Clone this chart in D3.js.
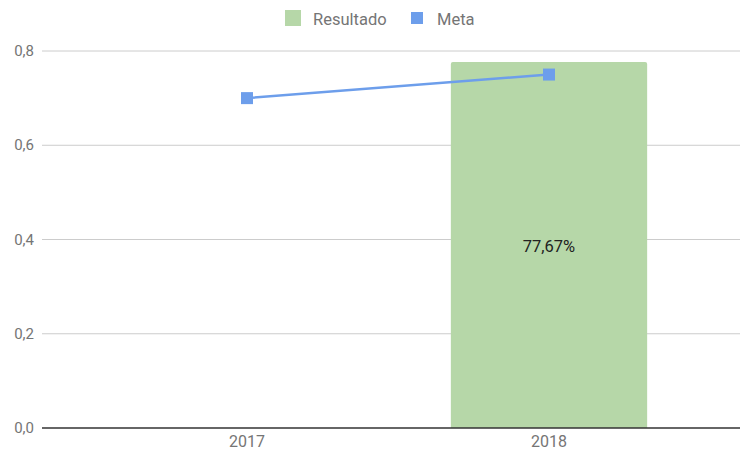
<!DOCTYPE html>
<html>
<head>
<meta charset="utf-8">
<script src="https://cdn.jsdelivr.net/npm/d3@7"></script>
<style>
  body { margin: 0; background: #fff; }
  text { font-family: Roboto, sans-serif; }
</style>
</head>
<body>
<div id="chart"></div>
<script>
const WIDTH = 740;
const HEIGHT = 452;

const years = ['2017', '2018'];
const resultado = [null, 0.7767];
const meta = [0.70, 0.75];
const yTicks = [0, 0.2, 0.4, 0.6, 0.8];
const seriesNames = ['Resultado', 'Meta'];

const GREEN = '#b6d7a8';
const BLUE = '#6d9eeb';

const svg = d3.select('#chart').append('svg')
  .attr('width', WIDTH)
  .attr('height', HEIGHT);

const xScale = d3.scaleBand()
  .domain(years)
  .range([96, 700])
  .paddingInner(0.35)
  .paddingOuter(0.175);

const yScale = d3.scaleLinear()
  .domain([0, 0.8])
  .range([428, 51]);

const fmt = v => d3.format('.1f')(v).replace('.', ',');

// gridlines
svg.append('g')
  .selectAll('line')
  .data(yTicks.filter(d => d > 0))
  .enter()
  .append('line')
  .attr('x1', 42)
  .attr('x2', WIDTH)
  .attr('y1', d => yScale(d))
  .attr('y2', d => yScale(d))
  .attr('stroke', '#cccccc')
  .attr('stroke-width', 1);

// y labels
svg.append('g')
  .selectAll('text')
  .data(yTicks)
  .enter()
  .append('text')
  .attr('x', 34)
  .attr('y', d => yScale(d) + 5)
  .attr('text-anchor', 'end')
  .attr('font-size', 15)
  .attr('fill', '#757575')
  .text(fmt);

// bars
const barData = years.map((y, i) => ({ year: y, value: resultado[i] })).filter(d => d.value != null);

svg.append('g')
  .selectAll('path')
  .data(barData)
  .enter()
  .append('path')
  .attr('fill', GREEN)
  .attr('d', d => {
    const x0 = xScale(d.year);
    const x1 = x0 + xScale.bandwidth();
    const y0 = yScale(d.value);
    const y1 = yScale(0);
    const r = 2;
    return `M${x0},${y1}V${y0 + r}Q${x0},${y0} ${x0 + r},${y0}H${x1 - r}Q${x1},${y0} ${x1},${y0 + r}V${y1}Z`;
  });

// bar labels
svg.append('g')
  .selectAll('text')
  .data(barData)
  .enter()
  .append('text')
  .attr('x', d => xScale(d.year) + xScale.bandwidth() / 2)
  .attr('y', d => (yScale(d.value) + yScale(0)) / 2 + 7)
  .attr('text-anchor', 'middle')
  .attr('font-size', 16.5)
  .attr('fill', '#222222')
  .text(d => d3.format('.2f')(d.value * 100).replace('.', ',') + '%');

// baseline
svg.append('line')
  .attr('x1', 42)
  .attr('x2', WIDTH)
  .attr('y1', yScale(0))
  .attr('y2', yScale(0))
  .attr('stroke', '#333333')
  .attr('stroke-width', 1.3);

// x labels
svg.append('g')
  .selectAll('text')
  .data(years)
  .enter()
  .append('text')
  .attr('x', d => xScale(d) + xScale.bandwidth() / 2)
  .attr('y', 447)
  .attr('text-anchor', 'middle')
  .attr('font-size', 16)
  .attr('fill', '#757575')
  .text(d => d);

// meta line
const metaData = years.map((y, i) => ({ year: y, value: meta[i] }));
const line = d3.line()
  .x(d => xScale(d.year) + xScale.bandwidth() / 2)
  .y(d => yScale(d.value));

svg.append('path')
  .datum(metaData)
  .attr('d', line)
  .attr('fill', 'none')
  .attr('stroke', BLUE)
  .attr('stroke-width', 2.5);

svg.append('g')
  .selectAll('rect')
  .data(metaData)
  .enter()
  .append('rect')
  .attr('x', d => xScale(d.year) + xScale.bandwidth() / 2 - 6)
  .attr('y', d => yScale(d.value) - 6)
  .attr('width', 12)
  .attr('height', 12)
  .attr('fill', BLUE);

// legend
const legend = svg.append('g');
legend.append('rect')
  .attr('x', 285).attr('y', 10)
  .attr('width', 16).attr('height', 16)
  .attr('fill', GREEN);
legend.append('text')
  .attr('x', 313).attr('y', 24.5)
  .attr('font-size', 16.5)
  .attr('fill', '#757575')
  .text(seriesNames[0]);
legend.append('rect')
  .attr('x', 411).attr('y', 12)
  .attr('width', 12).attr('height', 12)
  .attr('fill', BLUE);
legend.append('text')
  .attr('x', 437).attr('y', 24.5)
  .attr('font-size', 16.5)
  .attr('fill', '#757575')
  .text(seriesNames[1]);
</script>
</body>
</html>
